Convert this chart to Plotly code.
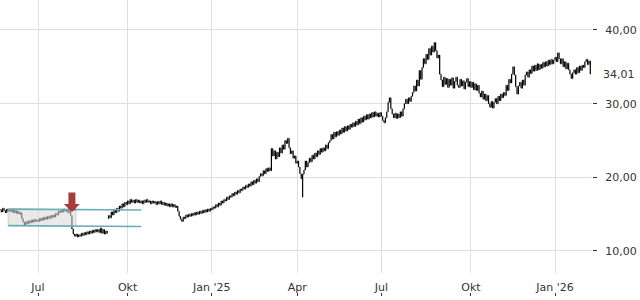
import pandas as pd
import plotly.graph_objects as go

# ---------------- data ----------------
start_date = "2024-05-22"
holidays = ["2024-12-24", "2024-12-25", "2024-12-26", "2024-12-31", "2025-01-01",
            "2025-04-18", "2025-04-21", "2025-05-01", "2025-12-24", "2025-12-25",
            "2025-12-26", "2025-12-31", "2026-01-01"]

# daily closes, one block per month
closes = [
    15.6, 15.3, 15.8, 15.5, 15.2, 15.7, 15.4, 15.6,                                   # May 24
    15.3, 15.7, 15.2, 15.5, 15.1, 15.4, 15.0, 15.2, 14.4, 13.9, 13.5, 14.0, 13.7, 14.1,
    13.8, 14.2, 13.9, 14.3, 14.0, 14.2,                                               # Jun 24
    14.0, 14.4, 14.1, 14.5, 14.2, 14.6, 14.3, 14.7, 14.4, 14.8, 14.5, 14.9, 14.6, 15.1,
    14.9, 15.4, 15.2, 15.6, 15.3, 15.7, 15.4, 15.6, 15.2,                             # Jul 24
    15.4, 14.8, 13.0, 12.3, 12.0, 12.3, 11.9, 12.2, 12.0, 12.4, 12.1, 12.5, 12.2, 12.6,
    12.3, 12.7, 12.4, 12.8, 12.5, 12.9, 12.6, 12.9,                                   # Aug 24
    12.5, 13.1, 12.4, 12.9, 12.3, 12.7, 12.4, 14.8, 14.5, 15.3, 14.9, 15.6, 15.2, 15.8,
    15.4, 16.1, 15.8, 16.4, 16.0, 16.6, 16.3,                                         # Sep 24
    16.8, 16.4, 17.0, 16.6, 16.9, 16.5, 17.0, 16.6, 16.9, 16.5, 16.8, 16.4, 16.9, 16.6,
    17.0, 16.6, 16.8, 16.4, 16.8, 16.5, 16.7, 16.3, 16.7,                             # Oct 24
    16.4, 16.8, 16.3, 16.6, 16.2, 16.5, 16.1, 16.4, 16.0, 16.4, 16.0, 16.3, 15.9, 16.1,
    15.4, 14.7, 14.3, 14.0, 14.6, 14.4, 14.9,                                         # Nov 24
    14.6, 15.0, 14.7, 15.1, 14.8, 15.2, 14.9, 15.3, 15.0, 15.4, 15.1, 15.5, 15.2, 15.6,
    15.3, 15.7, 15.4, 15.8,                                                           # Dec 24
    15.6, 16.0, 15.8, 16.3, 16.0, 16.5, 16.2, 16.8, 16.5, 17.0, 16.8, 17.3, 17.0, 17.5,
    17.3, 17.8, 17.5, 18.0, 17.7, 18.2, 17.9, 18.4,                                   # Jan 25
    18.2, 18.7, 18.4, 18.9, 18.6, 19.1, 18.8, 19.4, 19.0, 19.6, 19.2, 19.8, 19.4, 20.1,
    20.5, 20.2, 20.9, 20.5, 21.2, 20.8,                                               # Feb 25
    21.3, 20.9, 23.9, 22.9, 23.6, 22.5, 23.4, 22.8, 24.0, 23.3, 24.4, 23.8, 25.0, 24.6,
    25.3, 24.0, 23.2, 23.6, 22.6, 22.9, 21.9,                                         # Mar 25
    22.2, 21.4, 20.5, 19.8, 20.4, 21.0, 22.2, 21.4, 22.0, 22.6, 22.1, 23.0, 22.5, 23.3,
    22.8, 23.6, 23.1, 23.9, 23.4, 24.0,                                               # Apr 25
    23.6, 24.4, 23.9, 24.7, 25.0, 25.8, 25.2, 26.1, 25.5, 26.2, 25.7, 26.4, 25.9, 26.7,
    26.1, 26.9, 26.3, 27.0, 26.5, 27.2, 26.8,                                         # May 25
    27.4, 26.9, 27.6, 27.1, 27.9, 27.3, 28.1, 27.5, 28.3, 27.8, 28.5, 27.9, 28.6, 28.1,
    28.8, 28.2, 28.9, 28.3, 28.7, 28.2, 28.8,                                         # Jun 25
    28.3, 27.7, 27.4, 28.1, 28.9, 30.2, 30.8, 29.3, 28.6, 28.1, 28.7, 28.0, 28.6, 28.1,
    28.9, 28.3, 29.3, 30.0, 30.6, 30.0, 30.8, 30.3, 31.0,                             # Jul 25
    31.5, 32.4, 31.7, 33.2, 32.4, 34.5, 33.3, 34.9, 36.1, 35.4, 36.7, 36.0, 37.5, 36.6,
    37.8, 37.0, 38.3, 37.2, 36.2, 36.6, 34.0,                                         # Aug 25
    33.2, 32.3, 33.6, 32.6, 33.4, 32.2, 33.3, 32.5, 33.5, 32.1, 33.0, 33.6, 32.5, 32.2,
    33.3, 32.4, 33.1, 32.0, 32.9, 33.4, 32.3, 33.0,                                   # Sep 25
    32.2, 32.9, 31.9, 32.7, 31.8, 32.5, 31.4, 30.9, 31.7, 30.6, 31.3, 30.4, 31.1, 30.0,
    29.5, 30.3, 29.4, 30.2, 30.7, 30.0, 31.0, 30.4, 31.3,                             # Oct 25
    30.8, 31.5, 31.1, 32.5, 31.8, 33.3, 32.8, 34.0, 35.0, 33.9, 32.3, 31.3, 32.4, 32.9,
    32.1, 33.2, 32.5, 33.9, 34.3, 33.6,                                               # Nov 25
    34.6, 34.1, 35.1, 34.4, 35.2, 34.5, 35.4, 34.6, 35.3, 34.8, 35.6, 35.0, 35.7, 35.1,
    35.9, 35.3, 36.0, 35.4, 35.9,                                                     # Dec 25
    36.3, 35.7, 36.9, 36.1, 35.4, 36.1, 35.0, 35.7, 34.7, 35.5, 34.6, 34.0, 33.4, 34.2,
    34.6, 34.0, 34.9, 34.2, 35.1, 34.5, 35.2,                                         # Jan 26
    34.9, 35.7, 36.0, 35.3, 35.8, 34.01,                                              # Feb 26
]
gap_opens = {"2024-09-11": 14.4}
wick_lows = {"2025-04-07": 17.3}

tick_dates = ["2024-07-01", "2024-10-01", "2025-01-02", "2025-04-01",
              "2025-07-01", "2025-10-01", "2026-01-02"]
tick_labels = ["Jul", "Okt", "Jan '25", "Apr", "Jul", "Okt", "Jan '26"]
price_ticks = [10, 20, 30, 40]
price_labels = ["10,00", "20,00", "30,00", "40,00"]
last_label = "34,01"

channel_dates = ["2024-05-30", "2024-10-15"]
channel_upper = [15.68, 15.56]
channel_lower = [13.44, 13.32]
box_end_date = "2024-08-08"
signal_date = "2024-08-05"
signal_price = 15.3

# ---------------- calendar (trading-day index axis) ----------------
all_days = [d.strftime("%Y-%m-%d") for d in pd.bdate_range(start_date, "2026-06-30")
            if d.strftime("%Y-%m-%d") not in holidays]
pos = {d: i for i, d in enumerate(all_days)}
xs = list(range(len(closes)))

opens = [closes[0]] + closes[:-1]
for d, v in gap_opens.items():
    opens[pos[d]] = v
highs = [max(o, c) for o, c in zip(opens, closes)]
lows = [min(o, c) for o, c in zip(opens, closes)]
for d, v in wick_lows.items():
    lows[pos[d]] = v

i_jul = pos["2024-07-01"]
x_range = [i_jul - 28.0, i_jul + 408.25]
y_range = [7.01, 44.07]
tickpos = [pos[d] for d in tick_dates]

FONT = "DejaVu Sans"
TXT = "#333333"
GRID = "#dedede"

fig = go.Figure()

# channel box fill
c0, c1 = pos[channel_dates[0]], pos[channel_dates[1]]
cb = pos[box_end_date]
frac = (cb - c0) / (c1 - c0)
ub = channel_upper[0] + (channel_upper[1] - channel_upper[0]) * frac
lb = channel_lower[0] + (channel_lower[1] - channel_lower[0]) * frac
fig.add_trace(go.Scatter(
    x=[c0, cb, cb, c0, c0], y=[channel_upper[0], ub, lb, channel_lower[0], channel_upper[0]],
    fill="toself", fillcolor="rgba(215,215,215,0.55)", mode="lines",
    line=dict(color="rgba(185,185,185,0.6)", width=1), hoverinfo="skip", showlegend=False))
for ys in (channel_upper, channel_lower):
    fig.add_trace(go.Scatter(x=[c0, c1], y=ys, mode="lines",
                             line=dict(color="#6aaeb5", width=1.7),
                             hoverinfo="skip", showlegend=False))

fig.add_trace(go.Ohlc(
    x=xs, open=opens, high=highs, low=lows, close=closes,
    increasing=dict(line=dict(color="black", width=1.2)),
    decreasing=dict(line=dict(color="black", width=1.2)),
    tickwidth=0.3, showlegend=False, hoverinfo="skip"))

# helper trace for the secondary x-axis carrying the bottom tick marks
fig.add_trace(go.Scatter(x=tickpos, y=[price_ticks[0]] * len(tickpos), xaxis="x2",
                         mode="markers", marker=dict(opacity=0), hoverinfo="skip",
                         showlegend=False))

fig.update_layout(
    width=640, height=300,
    margin=dict(l=0, r=48, t=0, b=4),
    paper_bgcolor="white", plot_bgcolor="white",
    showlegend=False,
    font=dict(family=FONT, size=11, color=TXT),
    xaxis=dict(range=x_range, tickvals=tickpos, ticktext=tick_labels,
               showgrid=True, gridcolor=GRID, gridwidth=1, zeroline=False,
               showline=False, ticks="", ticklabelstandoff=6,
               tickfont=dict(family=FONT, size=11, color=TXT),
               rangeslider=dict(visible=False), fixedrange=True),
    xaxis2=dict(overlaying="x", anchor="free", position=0, side="bottom",
                range=x_range, tickvals=tickpos, showticklabels=False,
                ticks="inside", ticklen=3, tickcolor=TXT, tickwidth=1,
                showgrid=False, zeroline=False, showline=False),
    yaxis=dict(domain=[23 / 296, 1], range=y_range, side="right",
               tickvals=price_ticks, ticktext=price_labels,
               showgrid=True, gridcolor=GRID, gridwidth=1, zeroline=False,
               showline=False, ticks="outside", ticklen=4, tickcolor=TXT,
               ticklabelstandoff=6,
               tickfont=dict(family=FONT, size=11, color=TXT)),
    annotations=[
        dict(x=pos[signal_date], y=signal_price, xref="x", yref="y", text="",
             showarrow=True, arrowhead=1, arrowwidth=7, arrowsize=0.38,
             arrowcolor="#a53b3b", ax=0, ay=-21),
        dict(x=1, y=closes[-1], xref="paper", yref="y", text=last_label,
             showarrow=False, xanchor="left", yanchor="middle", xshift=9,
             font=dict(family=FONT, size=11, color=TXT)),
    ],
)

fig.write_html("out.html")
